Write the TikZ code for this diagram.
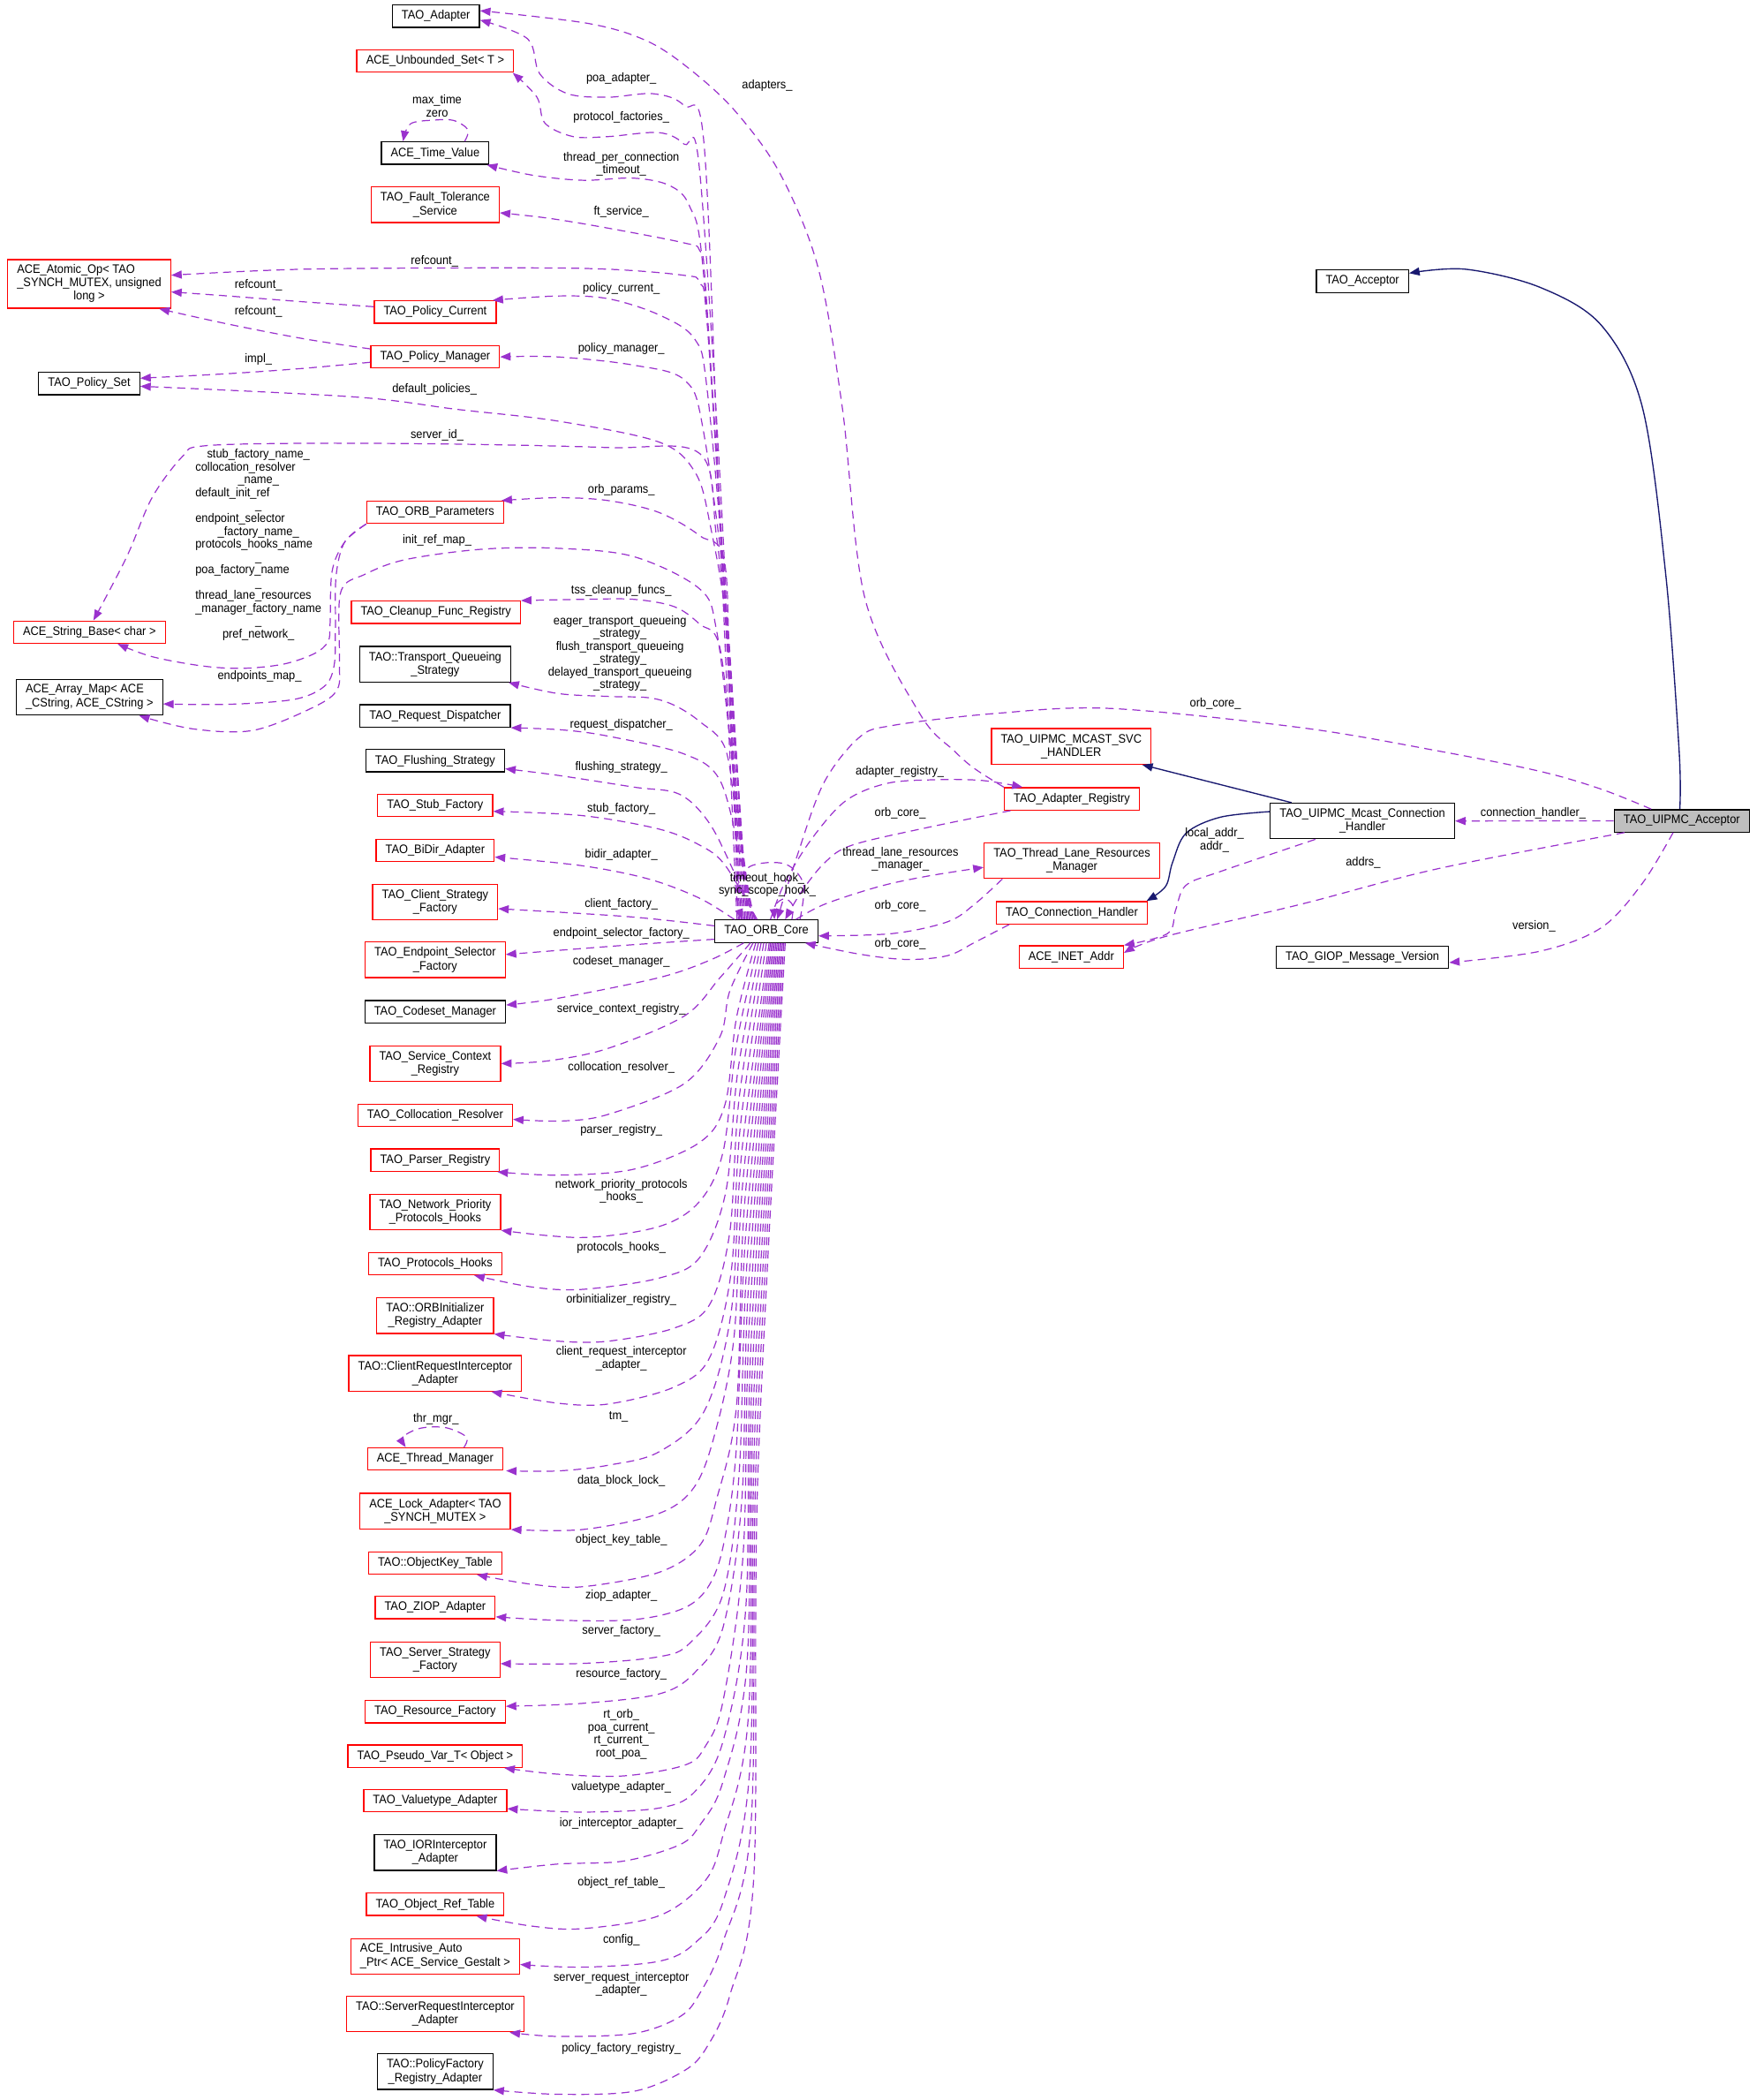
\documentclass[tikz,border=0pt]{standalone}
\usepackage{fontspec}
\setmainfont{Liberation Sans}[FakeStretch=0.92]
\usetikzlibrary{arrows.meta,calc}
\definecolor{purp}{HTML}{9A32CD}
\definecolor{navy}{HTML}{191970}
\definecolor{boxred}{HTML}{FF0000}
\definecolor{accfill}{HTML}{BFBFBF}
\newcommand{\nfont}{\fontsize{9.2pt}{10pt}\selectfont}
\newcommand{\lfont}{\fontsize{9.2pt}{9.6pt}\selectfont}
\newcommand{\mypath}[2][mem]{\draw[#1] plot[smooth,tension=0.55] coordinates {#2};}
\begin{document}
\begin{tikzpicture}[x=1pt,y=-1pt,
  box/.style={font=\nfont, inner xsep=7pt, inner ysep=0pt, line width=0.85pt, align=center, text=black},
  blk/.style={box, draw=black},
  redb/.style={box, draw=boxred},
  h1/.style={minimum height=16.7pt},
  h2/.style={minimum height=26.6pt},
  h3/.style={minimum height=36.3pt},
  lbl/.style={font=\lfont, inner sep=0pt, align=center},
  mem/.style={draw=purp, line width=0.8pt, dash pattern=on 6pt off 4pt, -{Triangle[length=7.8pt,width=6pt]}},
  inh/.style={draw=navy, line width=0.9pt, -{Triangle[length=7.8pt,width=6pt]}},
]
\useasboundingbox (0,0) rectangle (1312,1568);

% ---------- nodes ----------
\node[blk,h1] (adapter) at (325.5,12) {TAO\_Adapter};
\node[redb,h1] (unbset) at (325,45.6) {ACE\_Unbounded\_Set< T >};
\node[blk,h1] (timeval) at (325,114.3) {ACE\_Time\_Value};
\node[redb,h2] (ftsvc) at (325,152.9) {TAO\_Fault\_Tolerance\\\_Service};
\node[redb,h3] (atomic) at (66.6,212) {\begin{tabular}{@{}l@{}}ACE\_Atomic\_Op< TAO\\\_SYNCH\_MUTEX, unsigned\\\multicolumn{1}{@{}c@{}}{long >}\end{tabular}};
\node[redb,h1] (polcur) at (325,233) {TAO\_Policy\_Current};
\node[redb,h1] (polmgr) at (325,266.5) {TAO\_Policy\_Manager};
\node[blk,h1] (polset) at (66.6,286.4) {TAO\_Policy\_Set};
\node[redb,h1] (orbparams) at (325,382.5) {TAO\_ORB\_Parameters};
\node[redb,h1] (strbase) at (66.8,472) {ACE\_String\_Base< char >};
\node[redb,h1] (cleanup) at (325.5,457.2) {TAO\_Cleanup\_Func\_Registry};
\node[blk,h2] (arraymap) at (66.8,520.6) {\begin{tabular}{@{}l@{}}ACE\_Array\_Map< ACE\\\_CString, ACE\_CString >\end{tabular}};
\node[blk,h2] (tqs) at (325,495.9) {TAO::Transport\_Queueing\\\_Strategy};
\node[blk,h1] (reqdisp) at (325,534.6) {TAO\_Request\_Dispatcher};
\node[blk,h1] (flush) at (325,568) {TAO\_Flushing\_Strategy};
\node[redb,h1] (stubf) at (325,601.4) {TAO\_Stub\_Factory};
\node[redb,h1] (bidir) at (325,634.9) {TAO\_BiDir\_Adapter};
\node[redb,h2] (clientsf) at (325,673.5) {TAO\_Client\_Strategy\\\_Factory};
\node[redb,h2] (epsf) at (325,716.7) {TAO\_Endpoint\_Selector\\\_Factory};
\node[blk,h1] (codeset) at (325,755.4) {TAO\_Codeset\_Manager};
\node[redb,h2] (scr) at (325,794.1) {TAO\_Service\_Context\\\_Registry};
\node[redb,h1] (colres) at (325,832.8) {TAO\_Collocation\_Resolver};
\node[redb,h1] (parser) at (325,866.2) {TAO\_Parser\_Registry};
\node[redb,h2] (nph) at (325,904.9) {TAO\_Network\_Priority\\\_Protocols\_Hooks};
\node[redb,h1] (protohooks) at (325,943.5) {TAO\_Protocols\_Hooks};
\node[redb,h2] (orbinit) at (325,982.3) {TAO::ORBInitializer\\\_Registry\_Adapter};
\node[redb,h2] (cria) at (325,1025.4) {TAO::ClientRequestInterceptor\\\_Adapter};
\node[redb,h1] (thrmgr) at (325,1089.4) {ACE\_Thread\_Manager};
\node[redb,h2] (lockad) at (325,1128.3) {ACE\_Lock\_Adapter< TAO\\\_SYNCH\_MUTEX >};
\node[redb,h1] (okt) at (325,1167) {TAO::ObjectKey\_Table};
\node[redb,h1] (ziop) at (325,1200.2) {TAO\_ZIOP\_Adapter};
\node[redb,h2] (ssf) at (325,1239.2) {TAO\_Server\_Strategy\\\_Factory};
\node[redb,h1] (resf) at (325,1278) {TAO\_Resource\_Factory};
\node[redb,h1] (pseudo) at (325,1311.3) {TAO\_Pseudo\_Var\_T< Object >};
\node[redb,h1] (valuetype) at (325,1344.5) {TAO\_Valuetype\_Adapter};
\node[blk,h2] (iorint) at (325,1383.2) {TAO\_IORInterceptor\\\_Adapter};
\node[redb,h1] (objref) at (325,1421.9) {TAO\_Object\_Ref\_Table};
\node[redb,h2] (intrusive) at (325,1460.8) {\begin{tabular}{@{}l@{}}ACE\_Intrusive\_Auto\\\_Ptr< ACE\_Service\_Gestalt >\end{tabular}};
\node[redb,h2] (sria) at (325,1503.8) {TAO::ServerRequestInterceptor\\\_Adapter};
\node[blk,h2] (pfra) at (325,1546.8) {TAO::PolicyFactory\\\_Registry\_Adapter};
\node[blk,h1] (core) at (572.4,695.3) {TAO\_ORB\_Core};
\node[redb,h2] (svch) at (800,557.3) {TAO\_UIPMC\_MCAST\_SVC\\\_HANDLER};
\node[redb,h1] (adreg) at (800.5,596.5) {TAO\_Adapter\_Registry};
\node[redb,h2] (tlrm) at (800.5,642.6) {TAO\_Thread\_Lane\_Resources\\\_Manager};
\node[redb,h1] (connh) at (800.5,681.5) {TAO\_Connection\_Handler};
\node[redb,h1] (inet) at (800,714.5) {ACE\_INET\_Addr};
\node[blk,h1] (acceptor) at (1017.5,210) {TAO\_Acceptor};
\node[blk,h1,fill=accfill] (uipmcacc) at (1256,612.9) {TAO\_UIPMC\_Acceptor};
\node[blk,h2] (mcast) at (1017.5,613) {TAO\_UIPMC\_Mcast\_Connection\\\_Handler};
\node[blk,h1] (giop) at (1017.5,714.7) {TAO\_GIOP\_Message\_Version};

% ---------- end points ----------
\foreach \i/\dx in {1/-22,2/-21,3/-20,4/-19,5/-18,6/-17,7/-16,8/-15,9/-14,10/-12,11/-13,12/-11,13/-10,14/-9,15/-8,16/-7,17/-24}
  {\coordinate (s\i) at ($(core.north)+(\dx,0)$);}
\foreach \i/\dx in {20/-17,21/-12,22/-10,23/-8,24/-6,25/-4,26/-2,27/0,28/2,29/3,30/4,31/5,32/6,33/7,34/8,35/9,36/10,37/11,38/12,39/13,40/14}
  {\coordinate (s\i) at ($(core.south)+(\dx,0)$);}
\coordinate (s18) at ($(core.west)+(0,-4)$);
\coordinate (s19) at ($(core.west)+(0,6)$);
\coordinate (t1) at ($(adapter.east)+(0,3)$);
\coordinate (t2) at ($(unbset.south east)+(-1,0)$);
\coordinate (t3) at ($(timeval.south east)+(-2,0)$);
\coordinate (t4) at ($(ftsvc.east)+(0,6)$);
\coordinate (t5) at ($(atomic.east)+(0,-6.5)$);
\coordinate (t6) at ($(polcur.north east)+(-3,0)$);
\coordinate (t8) at ($(polset.east)+(0,2)$);
\coordinate (t9) at ($(strbase.north)+(3,0)$);
\coordinate (t10) at ($(orbparams.north east)+(-2,0)$);
\coordinate (t11) at ($(arraymap.south east)+(-18,0)$);
\coordinate (t13) at ($(tqs.south east)+(-2,0)$);
\coordinate (t15) at ($(flush.east)+(0,6)$);
\coordinate (t16) at ($(stubf.east)+(0,4.4)$);
\coordinate (t17) at ($(bidir.east)+(0,5)$);
\coordinate (t18) at ($(clientsf.east)+(0,5)$);
\coordinate (t19) at ($(epsf.east)+(0,-4)$);
\coordinate (t20) at ($(codeset.east)+(0,-5)$);
\coordinate (t22) at ($(colres.east)+(0,3)$);
\coordinate (t23) at ($(parser.south east)+(-2,0)$);
\coordinate (t25) at ($(protohooks.south east)+(-21,0)$);
\coordinate (t27) at ($(cria.south east)+(-23,0)$);
\coordinate (t28) at ($(thrmgr.south east)+(2,0)$);
\coordinate (t30) at ($(okt.south east)+(-19,0)$);
\coordinate (t31) at ($(ziop.east)+(0,7)$);
\coordinate (t32) at ($(ssf.east)+(0,3)$);
\coordinate (t33) at ($(resf.east)+(0,-4)$);
\coordinate (t34) at ($(pseudo.south east)+(-14,0)$);
\coordinate (t35) at ($(valuetype.east)+(0,6)$);
\coordinate (t37) at ($(objref.south east)+(-21,0)$);
\coordinate (t38) at ($(intrusive.east)+(0,6)$);
\coordinate (t39) at ($(sria.south east)+(-11,0)$);
\coordinate (a1) at ($(polcur.west)+(0,-4)$);
\coordinate (a1t) at ($(atomic.east)+(0,6)$);
\coordinate (a2) at ($(polmgr.west)+(0,-6)$);
\coordinate (a2t) at ($(atomic.south east)+(-9,0)$);
\coordinate (a3) at ($(polmgr.west)+(0,4)$);
\coordinate (a3t) at ($(polset.east)+(0,-4)$);
\coordinate (a4t) at ($(strbase.south east)+(-36,0)$);
\coordinate (a5t) at ($(arraymap.east)+(0,5)$);
\coordinate (c1) at ($(core.north)+(3,0)$);
\coordinate (c1t) at ($(adreg.north west)+(14,0)$);
\coordinate (c2) at ($(adreg.south west)+(5,0)$);
\coordinate (c2t) at ($(core.north)+(14,0)$);
\coordinate (c3) at ($(core.north)+(22,0)$);
\coordinate (c3t) at ($(tlrm.west)+(0,5)$);
\coordinate (c4) at ($(tlrm.south west)+(14,0)$);
\coordinate (c4t) at ($(core.east)+(0,3.5)$);
\coordinate (c5) at ($(connh.south west)+(10,0)$);
\coordinate (c5t) at ($(core.south east)+(-10,0)$);
\coordinate (c6) at ($(uipmcacc.north west)+(28,0)$);
\coordinate (c6t) at ($(core.north)+(8,0)$);
\coordinate (r1) at ($(uipmcacc.south west)+(8,0)$);
\coordinate (r1t) at ($(inet.east)+(0,-3)$);
\coordinate (r2) at ($(mcast.south west)+(34,0)$);
\coordinate (r3) at ($(mcast.west)+(0,-7)$);
\coordinate (r3t) at ($(connh.north east)+(-1,0)$);
\coordinate (r4) at ($(mcast.north)+(-53,0)$);
\coordinate (r4t) at ($(svch.south east)+(-7,0)$);
\coordinate (r5) at ($(uipmcacc.north)+(-1.5,0)$);
\coordinate (r5t) at ($(acceptor.east)+(0,-6)$);
\coordinate (r6) at ($(uipmcacc.south)+(-6.5,0)$);
\coordinate (r6t) at ($(giop.east)+(0,4)$);
\coordinate (r7t) at ($(adapter.east)+(0,-4)$);
\coordinate (q1) at ($(timeval.north)+(22,0)$);
\coordinate (q1t) at ($(timeval.north)+(-24,0)$);
\coordinate (q2) at ($(thrmgr.north)+(21.5,0)$);
\coordinate (q2t) at ($(thrmgr.north)+(-22,0)$);
\coordinate (q3) at ($(core.north)+(19,0)$);
\coordinate (q3t) at ($(core.north)+(6,0)$);
\coordinate (q4) at ($(core.north)+(25,0)$);
\coordinate (q4t) at ($(core.north)+(-18,0)$);

% ---------- ORB core upward edges ----------
\mypath{(s1) (538,400) (526,110) (511,79) (488,70) (454,72.6) (424,70) (403,55) (394,29) (t1)}
\mypath{(s2) (540,400) (522.5,127.5) (511,107.7) (492,99) (454,102) (428,102) (407,92) (401,72.6) (t2)}
\mypath{(s3) (540,420) (525,200) (515,154) (500,138.5) (473,133) (435,134.6) (397.6,130.8) (t3)}
\mypath{(s4) (540,430) (527,215) (522.5,187) (511,181.4) (454.4,170.4) (410,163) (t4)}
\mypath{(s5) (541,440) (528,240) (522.5,211) (511,205.6) (454,201) (378,200) (227,201) (t5)}
\mypath{(s6) (542,450) (528,290) (518.7,253) (492,235) (454,223) (416.5,221) (t6)}
\mypath{(s7) (543,460) (525,320) (511,283.6) (473,272.6) (416.5,266.5) (polmgr.east)}
\mypath{(s8) (544,480) (530,390) (518.7,352) (492,330) (416.5,314.4) (340.8,305.6) (265,296.4) (t8)}
\mypath{(s9) (545,500) (535,400) (522.5,338.6) (454.4,334.2) (340.8,331.6) (227.2,331) (151.5,333) (136.3,340.8) (113.6,371.5) (94.7,415.6) (t9)}
\mypath{(s10) (546,550) (541.5,422) (522.5,400) (492,382.6) (454.4,373.8) (416.5,371.6) (t10)}
\mypath{(s11) (546,560) (535,470) (522.5,439.7) (473.3,415.6) (416.5,409.4) (359.7,410.1) (303,417.8) (272.6,428.8) (254.5,442) (253.5,492.5) (252,514.5) (234.8,527.7) (189.3,545.3) (143.9,544.2) (t11)}
\mypath{(s12) (548,580) (537.7,484) (522.5,466) (503.6,453) (473.3,447.5) (435.4,447.5) (cleanup.north east)}
\mypath{(s13) (550,610) (541.5,558.5) (522.5,538.7) (503.6,526.6) (484.7,521) (454.4,520) (416.5,517.8) (t13)}
\mypath{(s14) (553,640) (537.7,582.7) (511,563) (454.4,549.7) (420,545) (reqdisp.south east)}
\mypath{(s15) (550,655) (530,615) (507.4,593) (473.3,587.7) (416.5,578.9) (t15)}
\mypath{(s16) (541.5,646) (522.5,631) (492,619) (435,609) (t16)}
\mypath{(s17) (522.5,670.7) (484.7,656.4) (435.4,646.5) (t17)}
\mypath{(s18) (470,684.5) (t18)}
\mypath{(s19) (464,706) (t19)}
% ---------- ORB core downward edges ----------
\mypath{(s20) (530,717) (492,730) (416.5,745.4) (t20)}
\mypath{(s21) (537.7,730) (511.2,758.5) (454.4,782.7) (410,792) (scr.east)}
\mypath{(s22) (545,740) (537.7,774) (511.2,809) (454.4,832) (420,837) (t22)}
\mypath{(s23) (550,760) (541.5,824.5) (522.5,853) (473.3,873) (416.5,877.4) (t23)}
\mypath{(s24) (550,780) (540,860) (522.5,897) (492.2,915.8) (435.4,924) (nph.south east)}
\mypath{(s25) (551,800) (542,890) (522.5,939) (492.2,954.3) (435.4,962.7) (397.6,961) (t25)}
\mypath{(s26) (552,820) (545,920) (530,974) (503.6,991.6) (454.4,1001.4) (416.5,1001.4) (orbinit.south east)}
\mypath{(s27) (553,840) (546,950) (530,1013.6) (503.6,1035.6) (454.4,1048.3) (416.5,1047.7) (t27)}
\mypath{(s28) (554,860) (546,980) (526.3,1053) (492.2,1084) (454.4,1094) (416.5,1098.3) (t28)}
\mypath{(s29) (555,880) (548,1000) (534,1070) (518.7,1110) (492.2,1130) (435.4,1142) (lockad.south east)}
\mypath{(s30) (556,900) (550,1050) (535,1120) (522.5,1154) (492.2,1174) (435.4,1184.7) (397.6,1183) (t30)}
\mypath{(s31) (557,920) (550,1080) (541,1150) (530,1183) (511.2,1200.5) (473.3,1209.3) (416.5,1209.8) (t31)}
\mypath{(s32) (558,940) (552,1100) (540,1190) (515,1227) (492.2,1237) (435.4,1242) (t32)}
\mypath{(s33) (559,960) (554,1120) (540,1215) (518.7,1249) (492.2,1264.8) (435.4,1271.8) (t33)}
\mypath{(s34) (560,980) (555,1160) (540,1270) (526.3,1304.6) (511.2,1318) (465.7,1326) (416.5,1324.7) (t34)}
\mypath{(s35) (561,1000) (557,1200) (540,1300) (518.7,1338) (492.2,1350) (435.4,1353) (t35)}
\mypath{(s36) (562,1020) (558,1240) (540,1330) (522.5,1363) (507.4,1377.5) (465.7,1389.6) (416.5,1391.8) (iorint.south east)}
\mypath{(s37) (563,1040) (559,1280) (540,1370) (526.3,1404.7) (492.2,1430.4) (435.4,1440) (397.6,1438.2) (t37)}
\mypath{(s38) (564,1060) (560,1320) (540,1420) (518.7,1451) (492.2,1464.4) (435.4,1468.8) (t38)}
\mypath{(s39) (565,1080) (561,1360) (540,1450) (522.5,1488.6) (507.4,1506) (473.3,1518.3) (416.5,1520.5) (t39)}
\mypath{(s40) (566,1100) (563,1400) (545,1490) (528.2,1528) (511.2,1546) (473.3,1561.5) (416.5,1563.7) (pfra.south east)}
% ---------- other member edges ----------
\mypath{(a1) (227.2,225.4) (170.4,221) (a1t)}
\mypath{(a2) (227.2,253) (170.4,242) (a2t)}
\mypath{(a3) (227.2,275) (170.4,279) (a3t)}
\mypath{(orbparams.south west) (257.5,404.6) (248,426.6) (246.5,466) (245,479) (234.8,488) (212,495.8) (181.8,499) (151.5,497.3) (113.6,490.3) (a4t)}
\mypath{(orbparams.south west) (257.5,404.6) (251,430) (250.5,470.5) (249.5,497) (242.3,512.4) (219.6,522.2) (170.4,525.9) (a5t)}
\mypath{(c1) (585.8,659.6) (606,626.6) (631.5,598) (662,585) (697.6,582.2) (733,582.7) (c1t)}
\mypath{(c2) (692.5,617.9) (636.5,631) (616,644) (598.4,666) (c2t)}
\mypath{(c3) (616.2,675) (657,661.8) (692.5,654.2) (c3t)}
\mypath{(c4) (728,675) (707.8,688.2) (667,697) (c4t)}
\mypath{(c5) (728,703.6) (707.8,713.5) (677.2,716.4) (641.7,712.4) (c5t)}
\mypath{(c6) (1196,589.3) (1150.4,576) (1074,560.7) (972.3,543.4) (830,529) (743.4,532.7) (667,541.6) (641.7,550.6) (615,585) (595,640) (c6t)}
\draw[mem] (uipmcacc.west) -- (mcast.east);
\mypath{(r1) (1074,648.6) (972.2,675) (870.5,699.2) (r1t)}
\mypath{(r2) (911.2,650.8) (885.7,661) (878,679.4) (872,697) (inet.north east)}
\mypath{(r6) (1226.5,659.6) (1196,692.6) (1150.3,710.2) (r6t)}
\mypath{(adreg.north west) (728,574) (713,561) (687,533) (646,447) (629,304) (611,200) (582.6,129.7) (549.6,83.6) (516.6,52.8) (483.6,30.8) (439.8,17.6) (r7t)}
\mypath{(q1) (349.5,97) (339,90) (324,89.7) (306.5,92.5) (q1t)}
\mypath{(q2) (348.4,1073) (333,1066) (314,1066.4) (301,1073) (q2t)}
\mypath{(q3) (592,676) (586,671) (579,676) (q3t)}
\mypath{(q4) (600,660) (586,645) (560,647) (550,665) (q4t)}
% ---------- inheritance ----------
\mypath[inh]{(r3) (911.2,610.2) (885.7,622.2) (875.6,644.2) (870.5,661.8) (r3t)}
\draw[inh] (r4) -- (r4t);
\mypath[inh]{(r5) (1254,560.7) (1244,429) (1226.5,303.9) (1196,243) (1150,214.5) (1094.3,201) (r5t)}

% ---------- labels ----------
\node[lbl] (lb1) at (464,58.3) {poa\_adapter\_};
\node[lbl] (lb2) at (573,63.6) {adapters\_};
\node[lbl] (lb3) at (464,87.5) {protocol\_factories\_};
\node[lbl] (lb4) at (326.4,79.3) {max\_time\\zero};
\node[lbl] (lb5) at (464,122.6) {thread\_per\_connection\\\_timeout\_};
\node[lbl] (lb6) at (464,157.9) {ft\_service\_};
\node[lbl] (lb7) at (324.5,195) {refcount\_};
\node[lbl] (lb8) at (464,215.5) {policy\_current\_};
\node[lbl] (lb9) at (193,212.8) {refcount\_};
\node[lbl] (lb10) at (193,232.4) {refcount\_};
\node[lbl] (lb11) at (464,260.6) {policy\_manager\_};
\node[lbl] (lb12) at (193,268.3) {impl\_};
\node[lbl] (lb13) at (324.5,290.7) {default\_policies\_};
\node[lbl] (lb14) at (326.4,325) {server\_id\_};
\node[lbl] (lb15) at (193,407.3) {\begin{tabular}{@{}l@{}}\multicolumn{1}{@{}c@{}}{stub\_factory\_name\_}\\collocation\_resolver\\\multicolumn{1}{@{}c@{}}{\_name\_}\\default\_init\_ref\\\multicolumn{1}{@{}c@{}}{\_}\\endpoint\_selector\\\multicolumn{1}{@{}c@{}}{\_factory\_name\_}\\protocols\_hooks\_name\\\multicolumn{1}{@{}c@{}}{\_}\\poa\_factory\_name\\\multicolumn{1}{@{}c@{}}{\_}\\thread\_lane\_resources\\\_manager\_factory\_name\\\multicolumn{1}{@{}c@{}}{\_}\\\multicolumn{1}{@{}c@{}}{pref\_network\_}\end{tabular}};
\node[lbl] (lb16) at (464,366) {orb\_params\_};
\node[lbl] (lb17) at (326.4,403.6) {init\_ref\_map\_};
\node[lbl] (lb18) at (464,441.3) {tss\_cleanup\_funcs\_};
\node[lbl] (lb19) at (463,487.9) {eager\_transport\_queueing\\\_strategy\_\\flush\_transport\_queueing\\\_strategy\_\\delayed\_transport\_queueing\\\_strategy\_};
\node[lbl] (lb20) at (193.9,505.2) {endpoints\_map\_};
\node[lbl] (lb21) at (464,541.4) {request\_dispatcher\_};
\node[lbl] (lb22) at (464,572.7) {flushing\_strategy\_};
\node[lbl] (lb23) at (464,603.6) {stub\_factory\_};
\node[lbl] (lb24) at (464,638.3) {bidir\_adapter\_};
\node[lbl] (lb25) at (464,675.4) {client\_factory\_};
\node[lbl] (lb26) at (464,697) {endpoint\_selector\_factory\_};
\node[lbl] (lb27) at (464,718.3) {codeset\_manager\_};
\node[lbl] (lb28) at (464,753.7) {service\_context\_registry\_};
\node[lbl] (lb29) at (464,797.2) {collocation\_resolver\_};
\node[lbl] (lb30) at (464,843.7) {parser\_registry\_};
\node[lbl] (lb31) at (464,889.4) {network\_priority\_protocols\\\_hooks\_};
\node[lbl] (lb32) at (464,931.9) {protocols\_hooks\_};
\node[lbl] (lb33) at (464,970.8) {orbinitializer\_registry\_};
\node[lbl] (lb34) at (464,1014.5) {client\_request\_interceptor\\\_adapter\_};
\node[lbl] (lb35) at (325.6,1059.8) {thr\_mgr\_};
\node[lbl] (lb36) at (462,1057.6) {tm\_};
\node[lbl] (lb37) at (464,1105.5) {data\_block\_lock\_};
\node[lbl] (lb38) at (464,1149.9) {object\_key\_table\_};
\node[lbl] (lb39) at (464,1191.6) {ziop\_adapter\_};
\node[lbl] (lb40) at (464,1218) {server\_factory\_};
\node[lbl] (lb41) at (464,1249.9) {resource\_factory\_};
\node[lbl] (lb42) at (464,1295) {rt\_orb\_\\poa\_current\_\\rt\_current\_\\root\_poa\_};
\node[lbl] (lb43) at (464,1334.2) {valuetype\_adapter\_};
\node[lbl] (lb44) at (464,1361.4) {ior\_interceptor\_adapter\_};
\node[lbl] (lb45) at (464,1405.7) {object\_ref\_table\_};
\node[lbl] (lb46) at (464,1448.3) {config\_};
\node[lbl] (lb47) at (464,1481.5) {server\_request\_interceptor\\\_adapter\_};
\node[lbl] (lb48) at (464,1529.4) {policy\_factory\_registry\_};
\node[lbl] (lb49) at (573,660.7) {timeout\_hook\_\\sync\_scope\_hook\_};
\node[lbl] (lb50) at (672,576) {adapter\_registry\_};
\node[lbl] (lb51) at (672.3,606.9) {orb\_core\_};
\node[lbl] (lb52) at (672.5,641.4) {thread\_lane\_resources\\\_manager\_};
\node[lbl] (lb53) at (672.3,676.3) {orb\_core\_};
\node[lbl] (lb54) at (672.3,704.7) {orb\_core\_};
\node[lbl] (lb55) at (907.7,525.5) {orb\_core\_};
\node[lbl] (lb56) at (1145,607.3) {connection\_handler\_};
\node[lbl] (lb57) at (907,627.4) {local\_addr\_\\addr\_};
\node[lbl] (lb58) at (1018,644.2) {addrs\_};
\node[lbl] (lb59) at (1145.6,691.5) {version\_};
\end{tikzpicture}
\end{document}
